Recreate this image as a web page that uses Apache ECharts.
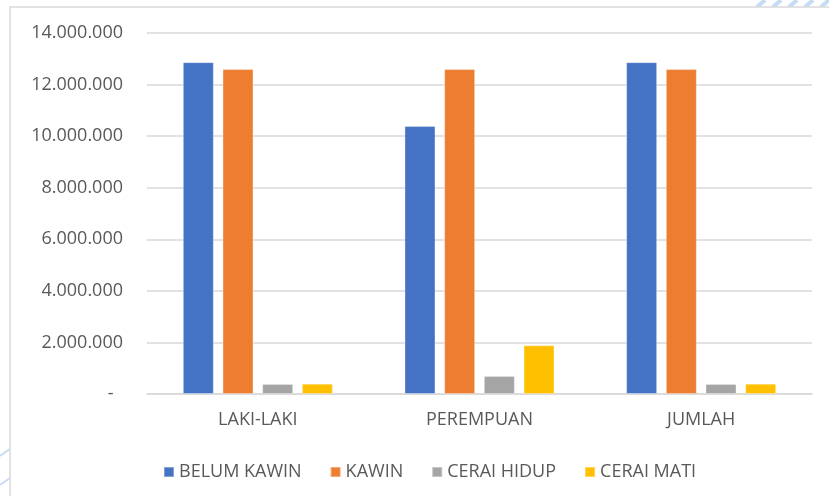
<!DOCTYPE html>
<html>
<head>
<meta charset="utf-8">
<script src="https://cdn.jsdelivr.net/npm/echarts@6/dist/echarts.min.js"></script>
<style>
  html, body { margin: 0; padding: 0; background: #fff; }
  #chart { width: 829px; height: 496px; }
</style>
</head>
<body>
<div id="chart"></div>
<script>
const categories = ['LAKI-LAKI', 'PEREMPUAN', 'JUMLAH'];
const seriesNames = ['BELUM KAWIN', 'KAWIN', 'CERAI HIDUP', 'CERAI MATI'];
const belumKawin = [12870000, 10390000, 12870000];
const kawin = [12600000, 12600000, 12600000];
const ceraiHidup = [390000, 700000, 390000];
const ceraiMati = [400000, 1890000, 400000];
const colors = ['#4472c4', '#ed7d31', '#a5a5a5', '#ffc000'];

const textColor = '#595959';
const font = 'Open Sans';

function fmt(v) {
  if (v === 0) return '-  ';
  return String(v).replace(/\B(?=(\d{3})+(?!\d))/g, '.');
}

const chart = echarts.init(document.getElementById('chart'), null, { renderer: 'canvas' });

const allData = [belumKawin, kawin, ceraiHidup, ceraiMati];

// decorative stripes in the corners
const deco = [];
[757, 773, 789, 805, 821].forEach(function (x) {
  deco.push({
    type: 'line', silent: true, z: -1,
    shape: { x1: x, y1: 7, x2: x + 8, y2: 0 },
    style: { stroke: '#c6dbf5', lineWidth: 4 }
  });
});
deco.push({ type: 'line', silent: true, z: -1, shape: { x1: 0, y1: 456, x2: 10, y2: 449 }, style: { stroke: '#c6dbf5', lineWidth: 2 } });
deco.push({ type: 'line', silent: true, z: -1, shape: { x1: 0, y1: 485, x2: 10, y2: 478 }, style: { stroke: '#c6dbf5', lineWidth: 2 } });
deco.push({
  type: 'rect', silent: true, z: 0,
  shape: { x: 10, y: 7, width: 840, height: 520 },
  style: { fill: '#fff', stroke: '#d9d9d9', lineWidth: 1.5 }
});

chart.setOption({
  animation: false,
  backgroundColor: '#fff',
  textStyle: { fontFamily: font },
  graphic: deco,
  grid: { left: 147, right: 17, top: 33, bottom: 102 },
  legend: {
    left: 158,
    top: 458,
    itemWidth: 10,
    itemHeight: 10,
    itemGap: 28,
    icon: 'rect',
    textStyle: { color: textColor, fontSize: 18, fontFamily: font },
    data: seriesNames
  },
  xAxis: {
    type: 'category',
    data: categories,
    axisLine: { lineStyle: { color: '#d9d9d9', width: 1.5 } },
    axisTick: { show: false },
    axisLabel: { color: textColor, fontSize: 18, fontFamily: font, margin: 17 }
  },
  yAxis: {
    type: 'value',
    min: 0,
    max: 14000000,
    interval: 2000000,
    axisLine: { show: false },
    axisTick: { show: false },
    splitLine: { lineStyle: { color: '#d9d9d9', width: 1.5 } },
    axisLabel: { color: textColor, fontSize: 18, fontFamily: font, margin: 24, formatter: fmt }
  },
  series: seriesNames.map(function (name, i) {
    return {
      name: name,
      type: 'bar',
      data: allData[i],
      barWidth: 31,
      barGap: '28%',
      itemStyle: { color: colors[i], borderColor: 'rgba(255,255,255,0.35)', borderWidth: 1 }
    };
  })
});
</script>
</body>
</html>
